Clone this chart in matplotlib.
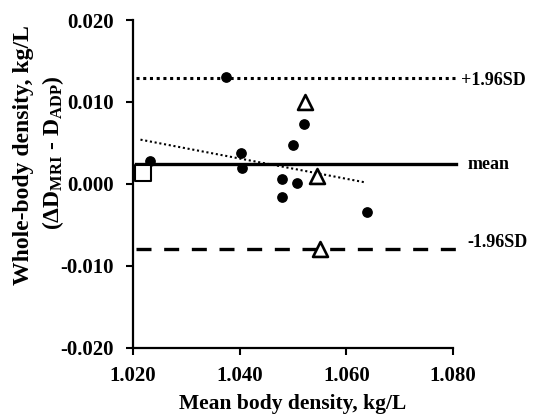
import matplotlib.pyplot as plt

plt.rcParams['font.family'] = ['Liberation Serif', 'DejaVu Serif']
plt.rcParams['font.weight'] = 'bold'
plt.rcParams['mathtext.fontset'] = 'custom'
plt.rcParams['mathtext.rm'] = 'Liberation Serif:bold'
plt.rcParams['mathtext.it'] = 'Liberation Serif:bold'
plt.rcParams['mathtext.bf'] = 'Liberation Serif:bold'

# Data
circle_x = [1.0375, 1.0232, 1.0403, 1.0405, 1.0500, 1.0520, 1.0480, 1.0507, 1.0479, 1.0639]
circle_y = [0.0130, 0.0028, 0.0038, 0.0020, 0.0048, 0.0073, 0.0006, 0.0001, -0.0016, -0.0034]
triangle_x = [1.0522, 1.0545, 1.0551]
triangle_y = [0.0100, 0.0010, -0.0080]
square_x = [1.0218]
square_y = [0.0013]
trend_x = [1.0214, 1.0634]
trend_y = [0.0054, 0.0002]
mean_diff = 0.0024
upper_loa = 0.0129
lower_loa = -0.0080
xticks = [1.020, 1.040, 1.060, 1.080]
yticks = [-0.020, -0.010, 0.000, 0.010, 0.020]

fig = plt.figure(figsize=(5.37, 4.17), dpi=100)
ax = fig.add_axes([0.2477, 0.166, 0.596, 0.786])

# Limits of agreement and mean
ax.plot([1.0205, 1.0805], [upper_loa, upper_loa], color='black', lw=2.2, linestyle=(0, (1, 1.2)), clip_on=False)
ax.plot([1.0205, 1.0805], [mean_diff, mean_diff], color='black', lw=2.4, clip_on=False)
ax.plot([1.0205, 1.0805], [lower_loa, lower_loa], color='black', lw=2.4, linestyle=(0, (4.5, 3.8)), clip_on=False)

# Trend line
ax.plot(trend_x, trend_y, color='black', lw=1.5, linestyle=(0, (1, 1.3)))

# Points
ax.scatter(circle_x, circle_y, s=45, color='black', zorder=3)
ax.scatter(triangle_x, triangle_y, s=115, marker='^', facecolor='white', edgecolor='black', linewidths=1.9, zorder=4)
ax.scatter(square_x, square_y, s=135, marker='s', facecolor='white', edgecolor='black', linewidths=1.5, zorder=4, clip_on=False)

# Line labels
ax.text(1.0815, upper_loa - 0.0003, '+1.96SD', fontsize=13, va='center', ha='left')
ax.text(1.0827, mean_diff, 'mean', fontsize=13, va='center', ha='left')
ax.text(1.0827, lower_loa + 0.0008, '-1.96SD', fontsize=13, va='center', ha='left')

ax.set_xlim(1.020, 1.080)
ax.set_ylim(-0.020, 0.020)
ax.set_xticks(xticks)
ax.set_yticks(yticks)
ax.set_xticklabels([f'{t:.3f}' for t in xticks])
ax.set_yticklabels([f'{t:.3f}' for t in yticks])
ax.tick_params(labelsize=15, width=1.5, length=5, direction='out')
ax.tick_params(axis='x', pad=8)
ax.tick_params(axis='y', pad=9)

for side in ['top', 'right']:
    ax.spines[side].set_visible(False)
for side in ['left', 'bottom']:
    ax.spines[side].set_linewidth(1.6)

ax.set_xlabel('Mean body density, kg/L', fontsize=15.5, fontweight='bold', labelpad=6)
fig.text(0.043, 0.627, 'Whole-body density, kg/L', rotation=90, fontsize=17,
         fontweight='bold', ha='center', va='center')
fig.text(0.099, 0.635, r'($\Delta$D$_{\mathrm{MRI}}$ - D$_{\mathrm{ADP}}$)', rotation=90, fontsize=17,
         fontweight='bold', ha='center', va='center')

fig.savefig('out.png', dpi=100)
